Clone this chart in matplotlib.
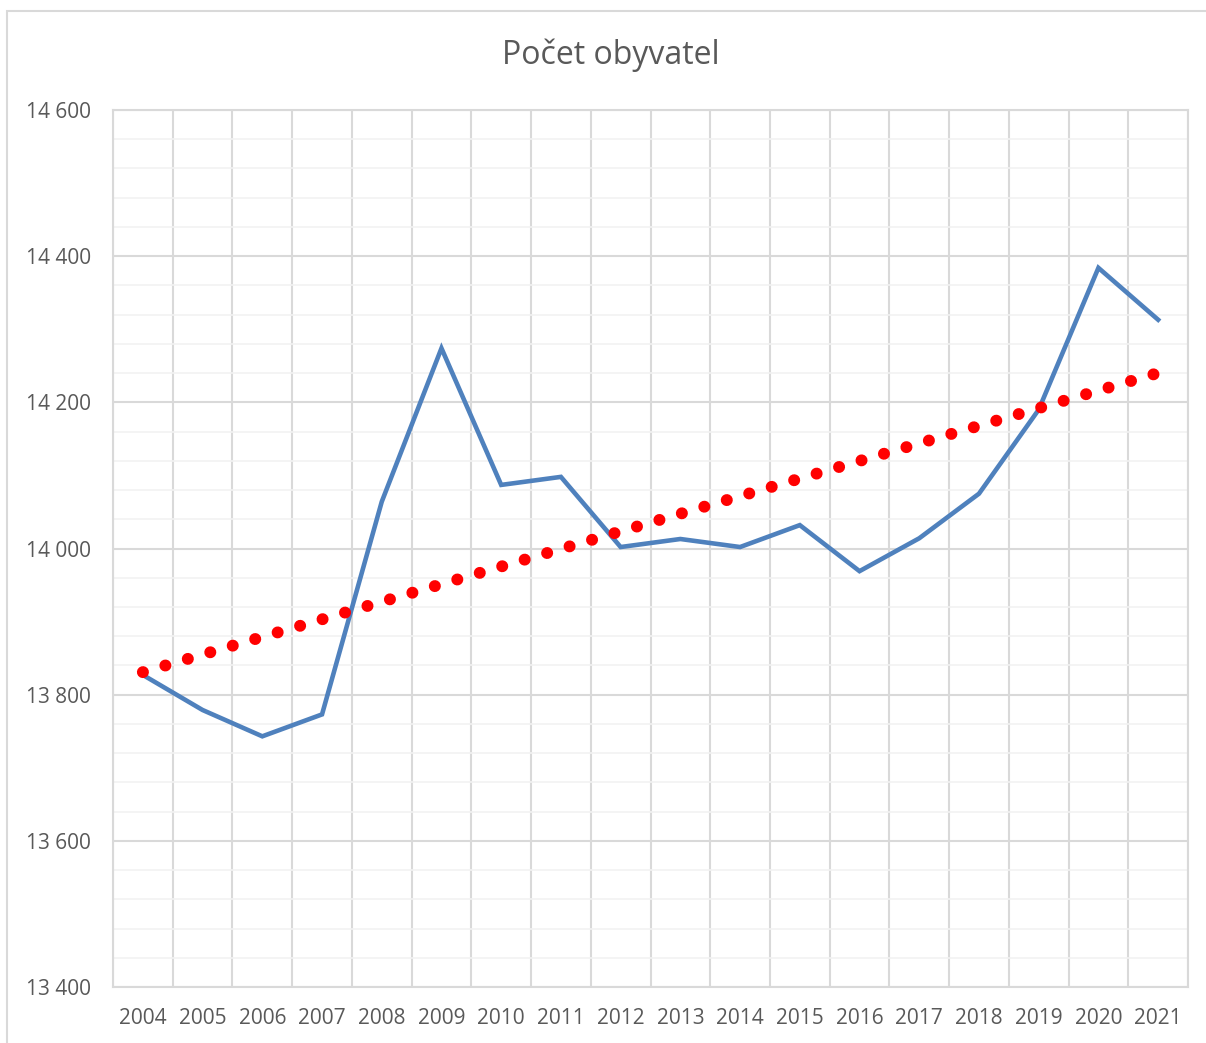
import numpy as np
import matplotlib
matplotlib.use("Agg")
import matplotlib.pyplot as plt
from matplotlib.patches import Rectangle

years = ["2004", "2005", "2006", "2007", "2008", "2009", "2010", "2011", "2012",
         "2013", "2014", "2015", "2016", "2017", "2018", "2019", "2020", "2021"]
population = [13827, 13779, 13743, 13773, 14064, 14274, 14087, 14098, 14002,
              14013, 14002, 14032, 13969, 14014, 14075, 14190, 14384, 14313]
title = "Počet obyvatel"

plt.rcParams['font.family'] = ['Open Sans', 'DejaVu Sans']
W, H = 1206, 1043
fig = plt.figure(figsize=(W / 100, H / 100), dpi=100)
fig.patch.set_facecolor("white")

# chart area border (cropped on right/bottom)
fig.add_artist(Rectangle((7 / W, -0.1), 1.2, (H - 11) / H + 0.1, transform=fig.transFigure,
                         fill=False, edgecolor="#D9D9D9", linewidth=1.5))

ax = fig.add_axes([113 / W, (H - 987) / H, (1188 - 113) / W, (987 - 110) / H])
x = np.arange(len(years))

ax.set_xlim(-0.5, len(years) - 0.5)
ax.set_ylim(13400, 14600)

# gridlines
ax.set_yticks(np.arange(13400, 14601, 200))
ax.set_yticks(np.arange(13400, 14601, 40), minor=True)
ax.set_xticks(np.arange(-0.5, len(years), 1.0), minor=True)
ax.set_xticks(x)
ax.set_xticklabels(years)
ax.set_yticklabels([f"{v:,}".replace(",", " ") for v in range(13400, 14601, 200)])
ax.grid(which="minor", axis="y", color="#F2F2F2", linewidth=1.2, zorder=0)
ax.grid(which="major", axis="y", color="#D9D9D9", linewidth=1.5, zorder=0)
ax.grid(which="minor", axis="x", color="#D9D9D9", linewidth=1.5, zorder=0)
ax.grid(which="major", axis="x", visible=False)
ax.set_axisbelow(True)

for s in ax.spines.values():
    s.set_color("#D9D9D9")
    s.set_linewidth(1.5)

ax.tick_params(which="both", length=0)
ax.tick_params(axis="y", pad=16, labelsize=15, labelcolor="#595959")
ax.tick_params(axis="x", pad=15, labelsize=15, labelcolor="#595959")

# data line
ax.plot(x, population, color="#4F81BD", linewidth=3.3, solid_joinstyle="miter", zorder=3)

# linear trendline
coef = np.polyfit(x, population, 1)
trend = np.polyval(coef, x)
ax.plot(x, trend, color="#FF0000", linewidth=8.6, linestyle=(0, (0.01, 1.95)),
        dash_capstyle="round", zorder=4)

fig.text(611 / W, (H - 55) / H, title, ha="center", va="center", fontsize=23, color="#595959")

fig.savefig("out.png", dpi=100, facecolor="white")
